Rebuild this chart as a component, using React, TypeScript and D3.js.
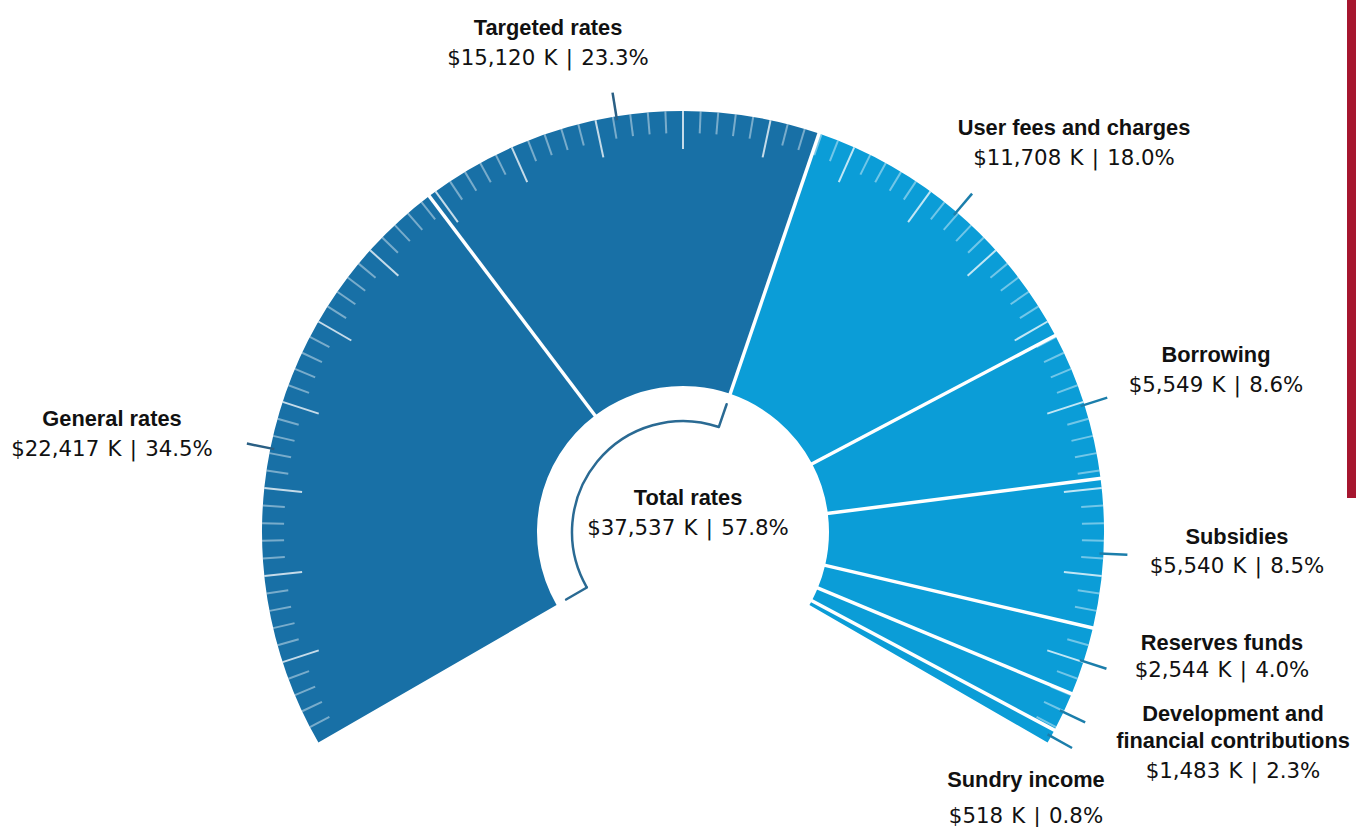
import React from "react";
import * as d3 from "d3";

// ---- data ----
const categories = [
  "General rates",
  "Targeted rates",
  "User fees and charges",
  "Borrowing",
  "Subsidies",
  "Reserves funds",
  "Development and financial contributions",
  "Sundry income",
];
const amounts = [22417, 15120, 11708, 5549, 5540, 2544, 1483, 518];
const percents = [34.5, 23.3, 18.0, 8.6, 8.5, 4.0, 2.3, 0.8];
const isRates = [true, true, false, false, false, false, false, false];
const titleLines = [
  ["General rates"],
  ["Targeted rates"],
  ["User fees and charges"],
  ["Borrowing"],
  ["Subsidies"],
  ["Reserves funds"],
  ["Development and", "financial contributions"],
  ["Sundry income"],
];
const totalLabel = "Total rates";
const totalAmount = 37537;
const totalPercent = 57.8;
const tickPercents = d3.range(1, 100);

// ---- layout (not data) ----
const W = 1356;
const H = 827;
const CX = 683;
const CY = 532;
const R_OUT = 421;
const R_IN = 146;
const R_BRACKET = 111;
// label anchors relative to chart centre (baseline of last title line)
const labelLayout = [
  { dx: -571, dy: -106, gap: 30 },
  { dx: -135, dy: -497, gap: 30 },
  { dx: 391, dy: -397, gap: 30 },
  { dx: 533, dy: -170, gap: 30 },
  { dx: 554, dy: 12, gap: 29 },
  { dx: 539, dy: 118, gap: 27 },
  { dx: 550, dy: 216, gap: 30 },
  { dx: 343, dy: 255, gap: 36 },
];

const DARK = "#1870a6";
const LIGHT = "#0b9dd7";
const DARK_LEADER = "#2a5f84";
const LIGHT_LEADER = "#1b7eab";
const TITLE_FONT = "'Liberation Sans', Arial, sans-serif";
const VALUE_FONT = "'DejaVu Sans', sans-serif";

const fmt = d3.format(",");
const money = (v: number, p: number) => `$${fmt(v)} K | ${p.toFixed(1)}%`;

function pt(r: number, a: number): [number, number] {
  return [CX + r * Math.sin(a), CY - r * Math.cos(a)];
}

export default function App() {
  const START = (-2 * Math.PI) / 3;
  const END = (2 * Math.PI) / 3;
  const pie = d3
    .pie<number>()
    .sort(null)
    .value((d) => d)
    .startAngle(START)
    .endAngle(END);
  const arcs = pie(amounts);
  const arcGen = d3.arc<d3.PieArcDatum<number>>().innerRadius(R_IN).outerRadius(R_OUT);
  const tickScale = d3.scaleLinear().domain([0, 100]).range([START, END]);

  const ratesEnd = arcs[1].endAngle;
  const bracketPath = d3
    .arc()
    .innerRadius(R_BRACKET)
    .outerRadius(R_BRACKET)
    .startAngle(START)
    .endAngle(ratesEnd)({} as any);

  return (
    <svg
      width={W}
      height={H}
      style={{ position: "absolute", left: 0, top: 0, background: "#fff" }}
    >
      <rect x={1347} y={0} width={9} height={498} fill="#a6162f" />
      <g transform={`translate(${CX},${CY})`}>
        {arcs.map((a, i) => (
          <path key={i} d={arcGen(a) || ""} fill={isRates[i] ? DARK : LIGHT} />
        ))}
      </g>
      {tickPercents.map((p) => {
        const a = tickScale(p);
        const major = p % 5 === 0;
        const len = major ? 38 : 22;
        const [x1, y1] = pt(R_OUT - len, a);
        const [x2, y2] = pt(R_OUT, a);
        return (
          <line
            key={p}
            x1={x1}
            y1={y1}
            x2={x2}
            y2={y2}
            stroke="#fff"
            strokeOpacity={major ? 0.75 : 0.42}
            strokeWidth={2}
          />
        );
      })}
      {arcs.slice(1).map((a, i) => {
        const [x1, y1] = pt(R_IN - 1, a.startAngle);
        const [x2, y2] = pt(R_OUT + 1, a.startAngle);
        return (
          <line key={i} x1={x1} y1={y1} x2={x2} y2={y2} stroke="#fff" strokeWidth={3.5} />
        );
      })}
      {arcs.map((a, i) => {
        const m = (a.startAngle + a.endAngle) / 2;
        const [x1, y1] = pt(R_OUT - 4, m);
        const [x2, y2] = pt(R_OUT + 24, m);
        return (
          <line
            key={i}
            x1={x1}
            y1={y1}
            x2={x2}
            y2={y2}
            stroke={isRates[i] ? DARK_LEADER : LIGHT_LEADER}
            strokeWidth={2.5}
          />
        );
      })}
      <g transform={`translate(${CX},${CY})`}>
        <path d={bracketPath || ""} fill="none" stroke="#2a6a93" strokeWidth={2.5} />
      </g>
      {[START, ratesEnd].map((a, i) => {
        const [x1, y1] = pt(R_BRACKET, a);
        const [x2, y2] = pt(R_BRACKET + 24, a);
        return (
          <line key={i} x1={x1} y1={y1} x2={x2} y2={y2} stroke="#2a6a93" strokeWidth={2.5} strokeLinecap="round" />
        );
      })}
      {categories.map((c, i) => {
        const lay = labelLayout[i];
        const x = CX + lay.dx;
        const lines = titleLines[i];
        const lastY = CY + lay.dy;
        return (
          <g key={c}>
            {lines.map((t, j) => (
              <text
                key={j}
                x={x}
                y={lastY - (lines.length - 1 - j) * 27}
                textAnchor="middle"
                fontFamily={TITLE_FONT}
                fontWeight="bold"
                fontSize={21.8}
                fill="#111"
              >
                {t}
              </text>
            ))}
            <text
              x={x}
              y={lastY + lay.gap}
              textAnchor="middle"
              fontFamily={VALUE_FONT}
              fontSize={21.3}
              wordSpacing={1.5}
              fill="#111"
            >
              {money(amounts[i], percents[i])}
            </text>
          </g>
        );
      })}
      <text
        x={688}
        y={505}
        textAnchor="middle"
        fontFamily={TITLE_FONT}
        fontWeight="bold"
        fontSize={21.8}
        fill="#111"
      >
        {totalLabel}
      </text>
      <text
        x={688}
        y={535}
        textAnchor="middle"
        fontFamily={VALUE_FONT}
        fontSize={21.3}
        wordSpacing={1.5}
        fill="#111"
      >
        {money(totalAmount, totalPercent)}
      </text>
    </svg>
  );
}
